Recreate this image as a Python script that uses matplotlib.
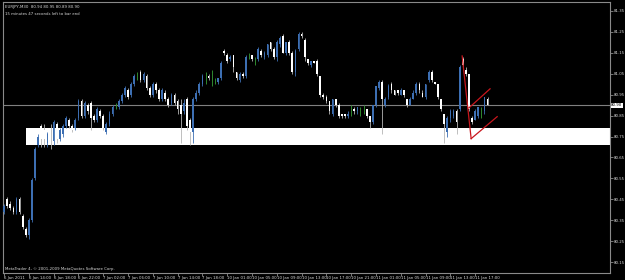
import numpy as np
import matplotlib
matplotlib.use("Agg")
from matplotlib import pyplot as plt

# 30-minute candles
opens = [
    80.39, 80.45, 80.43, 80.41, 80.39, 80.45, 80.37, 80.31, 80.28, 80.35,
    80.55, 80.71, 80.80, 80.78, 80.72, 80.78, 80.73, 80.81, 80.74, 80.76,
    80.80, 80.83, 80.80, 80.79, 80.84, 80.92, 80.85, 80.90, 80.91, 80.85,
    80.83, 80.87, 80.85, 80.77, 80.81, 80.86, 80.89, 80.89, 80.92, 80.95,
    80.97, 80.95, 81.00, 81.04, 81.06, 81.02, 81.04, 80.98, 80.95, 81.00,
    80.97, 80.93, 80.96, 80.93, 80.91, 80.95, 80.92, 80.90, 80.87, 80.93,
    80.83, 80.77, 80.93, 80.96, 81.00, 81.03, 81.04, 81.04, 81.02, 81.01,
    81.03, 81.16, 81.14, 81.12, 81.14, 81.06, 81.02, 81.05, 81.04, 81.13,
    81.14, 81.12, 81.12, 81.16, 81.13, 81.14, 81.20, 81.17, 81.13, 81.19,
    81.23, 81.15, 81.20, 81.15, 81.06, 81.17, 81.24, 81.21, 81.12, 81.09,
    81.11, 81.11, 81.04, 80.95, 80.94, 80.92, 80.86, 80.93, 80.90, 80.86,
    80.86, 80.85, 80.87, 80.88, 80.87, 80.88, 80.88, 80.88, 80.85, 80.82,
    80.90, 80.98, 81.01, 80.90, 80.94, 81.00, 80.97, 80.97, 80.95, 80.97,
    80.93, 80.90, 80.93, 80.96, 81.00, 80.96, 80.94, 81.02, 81.06, 81.01,
    81.00, 80.93, 80.86, 80.77, 80.84, 80.85, 80.87, 80.88, 81.12, 81.07,
    81.05, 80.84, 80.83, 80.85, 80.87, 80.87, 80.93,
]
highs = [
    80.43, 80.46, 80.44, 80.42, 80.46, 80.46, 80.38, 80.32, 80.36, 80.55,
    80.70, 80.76, 80.81, 80.81, 80.77, 80.81, 80.83, 80.82, 80.79, 80.81,
    80.85, 80.84, 80.81, 80.84, 80.93, 80.93, 80.92, 80.91, 80.92, 80.86,
    80.89, 80.88, 80.86, 80.82, 80.87, 80.90, 80.91, 80.93, 80.96, 80.99,
    80.98, 81.01, 81.05, 81.06, 81.07, 81.06, 81.05, 80.99, 81.01, 81.01,
    80.98, 80.98, 80.97, 80.94, 80.96, 80.96, 80.93, 80.93, 80.93, 80.94,
    80.84, 80.94, 80.97, 81.01, 81.05, 81.06, 81.05, 81.07, 81.03, 81.03,
    81.11, 81.17, 81.15, 81.14, 81.14, 81.06, 81.06, 81.06, 81.14, 81.15,
    81.14, 81.13, 81.18, 81.17, 81.16, 81.19, 81.20, 81.18, 81.21, 81.23,
    81.24, 81.20, 81.21, 81.16, 81.17, 81.25, 81.25, 81.22, 81.12, 81.11,
    81.11, 81.12, 81.04, 80.96, 80.95, 80.92, 80.93, 80.93, 80.91, 80.86,
    80.86, 80.87, 80.90, 80.89, 80.89, 80.89, 80.90, 80.88, 80.85, 80.90,
    80.99, 81.02, 81.02, 80.94, 81.00, 81.01, 80.97, 80.97, 80.98, 80.97,
    80.93, 80.94, 80.97, 81.01, 81.01, 80.97, 81.00, 81.07, 81.07, 81.01,
    81.00, 80.93, 80.86, 80.85, 80.88, 80.88, 80.88, 81.09, 81.13, 81.08,
    81.05, 80.85, 80.88, 80.89, 80.89, 80.94, 80.94,
]
lows = [
    80.38, 80.41, 80.40, 80.38, 80.38, 80.38, 80.31, 80.27, 80.26, 80.34,
    80.54, 80.70, 80.70, 80.70, 80.70, 80.69, 80.71, 80.72, 80.73, 80.75,
    80.79, 80.79, 80.77, 80.78, 80.83, 80.84, 80.84, 80.86, 80.78, 80.82,
    80.82, 80.84, 80.78, 80.76, 80.80, 80.85, 80.88, 80.88, 80.91, 80.94,
    80.93, 80.94, 80.99, 81.02, 81.01, 81.01, 80.97, 80.94, 80.94, 80.96,
    80.92, 80.92, 80.92, 80.89, 80.90, 80.90, 80.86, 80.72, 80.86, 80.78,
    80.71, 80.72, 80.92, 80.95, 80.99, 81.00, 81.02, 80.99, 81.00, 81.00,
    81.02, 81.14, 81.10, 81.11, 81.06, 81.02, 81.01, 81.03, 81.03, 81.12,
    81.11, 81.09, 81.11, 81.13, 81.12, 81.13, 81.16, 81.12, 81.11, 81.18,
    81.15, 81.14, 81.14, 81.05, 81.04, 81.16, 81.22, 81.11, 81.09, 81.08,
    81.10, 81.04, 80.94, 80.93, 80.91, 80.86, 80.85, 80.89, 80.84, 80.84,
    80.84, 80.84, 80.85, 80.86, 80.86, 80.85, 80.86, 80.84, 80.79, 80.81,
    80.89, 80.97, 80.76, 80.89, 80.93, 80.96, 80.95, 80.95, 80.95, 80.94,
    80.89, 80.90, 80.93, 80.95, 80.96, 80.94, 80.93, 81.01, 81.01, 81.00,
    80.93, 80.87, 80.72, 80.75, 80.82, 80.84, 80.76, 80.87, 81.08, 81.04,
    80.87, 80.81, 80.83, 80.84, 80.84, 80.86, 80.90,
]
closes = [
    80.42, 80.42, 80.41, 80.39, 80.45, 80.39, 80.32, 80.28, 80.35, 80.54,
    80.69, 80.75, 80.74, 80.74, 80.76, 80.72, 80.82, 80.74, 80.78, 80.80,
    80.84, 80.80, 80.78, 80.83, 80.92, 80.85, 80.91, 80.87, 80.84, 80.83,
    80.88, 80.85, 80.79, 80.81, 80.86, 80.89, 80.89, 80.92, 80.95, 80.98,
    80.94, 81.00, 81.04, 81.04, 81.02, 81.05, 80.98, 80.95, 81.00, 80.97,
    80.93, 80.97, 80.93, 80.90, 80.95, 80.91, 80.88, 80.86, 80.91, 80.80,
    80.77, 80.93, 80.96, 81.00, 81.04, 81.03, 81.03, 81.04, 81.02, 81.03,
    81.10, 81.15, 81.11, 81.13, 81.08, 81.03, 81.05, 81.04, 81.13, 81.13,
    81.12, 81.12, 81.17, 81.14, 81.15, 81.19, 81.17, 81.13, 81.20, 81.22,
    81.15, 81.20, 81.15, 81.06, 81.16, 81.24, 81.23, 81.13, 81.10, 81.11,
    81.10, 81.05, 80.95, 80.94, 80.92, 80.87, 80.93, 80.90, 80.85, 80.85,
    80.85, 80.86, 80.87, 80.87, 80.89, 80.88, 80.88, 80.85, 80.82, 80.90,
    80.99, 81.01, 80.93, 80.93, 80.99, 80.97, 80.95, 80.96, 80.97, 80.95,
    80.90, 80.93, 80.96, 81.00, 80.97, 80.94, 81.00, 81.06, 81.02, 81.00,
    80.94, 80.88, 80.81, 80.84, 80.87, 80.87, 80.82, 81.08, 81.09, 81.05,
    80.88, 80.82, 80.87, 80.89, 80.87, 80.94, 80.90,
]

time_labels = [
    "6 Jan 2011", "6 Jan 14:00", "6 Jan 18:00", "6 Jan 22:00", "7 Jan 02:00",
    "7 Jan 06:00", "7 Jan 10:00", "7 Jan 14:00", "7 Jan 18:00", "10 Jan 01:00",
    "10 Jan 05:00", "10 Jan 09:00", "10 Jan 13:00", "10 Jan 17:00", "10 Jan 21:00",
    "11 Jan 01:00", "11 Jan 05:00", "11 Jan 09:00", "11 Jan 13:00", "11 Jan 17:00",
]
bars_per_label = 8
price_ticks = [81.35, 81.25, 81.15, 81.05, 80.95, 80.85, 80.75,
               80.65, 80.55, 80.45, 80.35, 80.25, 80.15]
last_price = 80.90
zone = (80.71, 80.79)          # white support box
zone_start = 7.1

# hand drawn red lines (bar index, price)
red_lines = [
    ((147.8, 81.135), (150.7, 80.74)),
    ((150.7, 80.74), (159.1, 80.845)),
    ((150.0, 80.887), (156.8, 80.978)),
]

BULL = "#3d6fb3"
BEAR = "#ffffff"
WICK = "#b4b4b4"
DOJI = "#2f8a2f"
FRAME = "#8a8a8a"
TXT = "#d8d8d8"
FS = 2.8

o = np.array(opens)
h = np.array(highs)
l = np.array(lows)
c = np.array(closes)
x = np.arange(len(o))

fig = plt.figure(figsize=(6.25, 2.8), dpi=100, facecolor="black")
ax = fig.add_axes([0.005, 0.025, 0.971, 0.968], facecolor="black")
ax.set_xlim(-0.3, 195.5)
ax.set_ylim(80.098, 81.393)

# support box and current price line
ax.add_patch(plt.Rectangle((zone_start, zone[0]), 300, zone[1] - zone[0],
                           facecolor="white", edgecolor="none", zorder=1))
ax.axhline(last_price, color="#808080", lw=0.8, zorder=1.5)

up = c > o
down = c < o
doji = c == o

ax.vlines(x[up], l[up], h[up], color=BULL, lw=0.6, zorder=2)
ax.vlines(x[down], l[down], h[down], color=WICK, lw=0.6, zorder=2)
ax.vlines(x[doji], l[doji], h[doji], color=DOJI, lw=0.7, zorder=3)
ax.bar(x[up], c[up] - o[up], bottom=o[up], width=0.55, color=BULL,
       linewidth=0, zorder=3)
ax.bar(x[down], o[down] - c[down], bottom=c[down], width=0.55, color=BEAR,
       linewidth=0, zorder=3)

for (x0, y0), (x1, y1) in red_lines:
    ax.plot([x0, x1], [y0, y1], color="#c8161d", lw=0.9, zorder=4,
            clip_on=False)

for s in ax.spines.values():
    s.set_color(FRAME)
    s.set_linewidth(0.8)

ax.set_xticks(np.arange(len(time_labels)) * bars_per_label)
ax.set_xticklabels(time_labels, ha="left")
ax.tick_params(axis="x", colors=FRAME, labelcolor=TXT, labelsize=FS,
               length=2, width=0.6, pad=0.5)
ax.yaxis.tick_right()
ax.set_yticks(price_ticks)
ax.set_yticklabels([f"{p:.2f}" for p in price_ticks])
ax.tick_params(axis="y", colors=FRAME, labelcolor=TXT, labelsize=FS,
               length=2, width=0.6, pad=0.8)

ax.text(1.002, last_price, f"{last_price:.2f}", transform=ax.get_yaxis_transform(),
        fontsize=FS, color="black", va="center", ha="left",
        bbox=dict(facecolor="white", edgecolor="none", pad=0.4))

ax.text(0.003, 0.988, "EURJPY,M30  80.94 80.95 80.89 80.90",
        transform=ax.transAxes, fontsize=FS, color=TXT, va="top")
ax.text(0.003, 0.962, "15 minutes 47 seconds left to bar end",
        transform=ax.transAxes, fontsize=FS, color=TXT, va="top")
ax.text(0.003, 0.008, "MetaTrader 4, \u00a9 2001-2009 MetaQuotes Software Corp.",
        transform=ax.transAxes, fontsize=FS, color=TXT, va="bottom")

fig.savefig("out.png", dpi=100, facecolor="black")
